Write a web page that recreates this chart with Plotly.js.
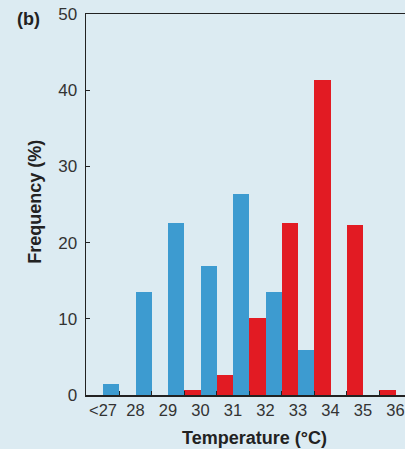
<!DOCTYPE html>
<html>
<head>
<meta charset="utf-8">
<script src="https://cdn.plot.ly/plotly-3.0.1.min.js"></script>
<style>
html,body{margin:0;padding:0;background:#dcebf2;}
#chart{width:405px;height:449px;}
</style>
</head>
<body>
<div id="chart"></div>
<script>
// Data
var categories = ["<27", "28", "29", "30", "31", "32", "33", "34", "35", "36"];
var redValues  = [0, 0, 0, 0.7, 2.6, 10.1, 22.6, 41.4, 22.3, 0.6];
var blueValues = [1.5, 13.5, 22.6, 16.9, 26.4, 13.5, 5.9, 0, 0, 0];
var yTickVals  = [0, 10, 20, 30, 40, 50];
var xTitle = "Temperature (°C)";
var yTitle = "Frequency (%)";
var panelLabel = "(b)";

var bg = "#dcebf2";
var fontFam = "Liberation Sans, Arial, sans-serif";

var traces = [
  {type: "bar", x: categories, y: redValues, name: "red",
   marker: {color: "#e21b23", line: {width: 0}}},
  {type: "bar", x: categories, y: blueValues, name: "blue",
   marker: {color: "#3d9bd0", line: {width: 0}}}
];

var layout = {
  width: 405, height: 449,
  margin: {l: 86, r: 0, t: 14, b: 54, pad: 0},
  paper_bgcolor: bg, plot_bgcolor: bg,
  barmode: "group", bargap: 0, bargroupgap: 0,
  showlegend: false,
  font: {family: fontFam, color: "#333"},
  xaxis: {
    type: "category",
    range: [-0.523, 9.292],
    showline: true, linecolor: "#222", linewidth: 1.5, mirror: true,
    ticks: "inside", tickson: "boundaries", ticklen: 4, tickcolor: "#222", tickwidth: 1.2,
    tickangle: 0,
    showgrid: false, zeroline: false,
    tickfont: {family: fontFam, size: 16.5, color: "#333"},
    fixedrange: true
  },
  yaxis: {
    range: [0, 50],
    tickvals: yTickVals,
    showline: true, linecolor: "#222", linewidth: 1.5, mirror: false,
    ticks: "inside", ticklen: 4, tickcolor: "#222", tickwidth: 1.2,
    showgrid: false, zeroline: false,
    tickfont: {family: fontFam, size: 17, color: "#333"},
    ticklabelstandoff: 4,
    fixedrange: true
  },
  annotations: [
    {text: xTitle, xref: "paper", yref: "paper", x: 0.528, y: -0.114,
     xanchor: "center", yanchor: "middle", showarrow: false,
     font: {family: fontFam, size: 18, color: "#222", weight: "bold"}},
    {text: yTitle, xref: "paper", yref: "paper", x: -0.16, y: 0.507,
     xanchor: "center", yanchor: "middle", showarrow: false, textangle: -90,
     font: {family: fontFam, size: 18, color: "#222", weight: "bold"}},
    {text: panelLabel, xref: "paper", yref: "paper", x: -0.179, y: 0.987,
     xanchor: "center", yanchor: "middle", showarrow: false,
     font: {family: fontFam, size: 18, color: "#222", weight: "bold"}}
  ]
};

Plotly.newPlot("chart", traces, layout, {displayModeBar: false, staticPlot: true});
</script>
</body>
</html>
